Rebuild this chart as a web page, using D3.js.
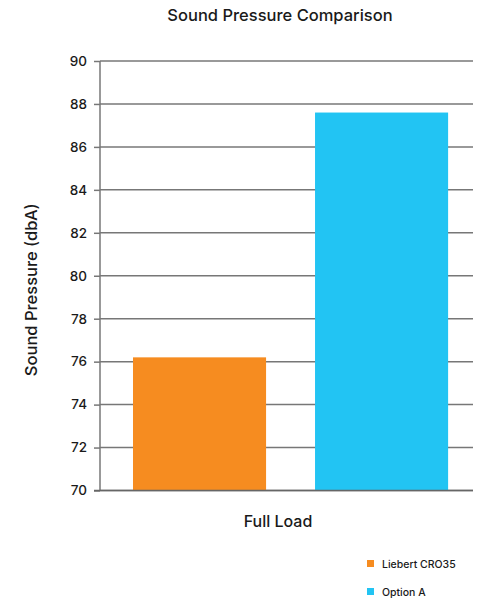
<!DOCTYPE html>
<html>
<head>
<meta charset="utf-8">
<script src="https://cdn.jsdelivr.net/npm/d3@7"></script>
<style>
  html, body { margin: 0; padding: 0; background: #fff; }
  svg text { font-family: Inter, "Noto Sans", sans-serif; fill: #1a1a1a; }
</style>
</head>
<body>
<svg id="chart" width="481" height="603"></svg>
<script>
const categories = ["Full Load"];
const seriesNames = ["Liebert CRO35", "Option A"];
const seriesValues = [76.2, 87.6];
const seriesColors = ["#F68C20", "#22C4F3"];
const yTicks = [70, 72, 74, 76, 78, 80, 82, 84, 86, 88, 90];

const svg = d3.select("#chart");
const margin = { left: 100, right: 8, top: 61, bottom: 113 };
const W = 481, H = 603;

const y = d3.scaleLinear().domain([70, 90]).range([H - margin.bottom + 0.5, margin.top]);
const x = d3.scaleBand().domain(seriesNames).range([margin.left, W - margin.right])
  .paddingInner(0.269).paddingOuter(0.159).align(0.57);

// gridlines + y axis ticks
const yAxis = d3.axisLeft(y).tickValues(yTicks).tickSize(6).tickPadding(7).tickFormat(d3.format("d"));
const gy = svg.append("g").attr("transform", `translate(${margin.left},0)`).call(yAxis);
gy.select(".domain").remove();
gy.selectAll(".tick line").attr("stroke", "#777").attr("stroke-width", 1.5);
gy.selectAll(".tick text").attr("font-size", 13.5).attr("font-weight", 500).attr("fill", "#1a1a1a")
  .style("font-family", "Inter, sans-serif");

svg.append("g").selectAll("line").data(yTicks).join("line")
  .attr("x1", margin.left).attr("x2", W - margin.right)
  .attr("y1", d => y(d)).attr("y2", d => y(d))
  .attr("stroke", "#777").attr("stroke-width", 1.5);

// bars
svg.append("g").selectAll("rect").data(seriesValues).join("rect")
  .attr("x", (d, i) => x(seriesNames[i]))
  .attr("width", x.bandwidth())
  .attr("y", d => y(d))
  .attr("height", d => y(70) - y(d))
  .attr("fill", (d, i) => seriesColors[i]);

// y axis vertical line
svg.append("line").attr("x1", margin.left).attr("x2", margin.left)
  .attr("y1", y(90)).attr("y2", y(70)).attr("stroke", "#777").attr("stroke-width", 1.5);
// bottom line
svg.append("line").attr("x1", margin.left - 6).attr("x2", W - margin.right)
  .attr("y1", y(70)).attr("y2", y(70)).attr("stroke", "#666").attr("stroke-width", 1.5);

// title
svg.append("text").attr("x", 280).attr("y", 21).attr("text-anchor", "middle")
  .attr("font-size", 16.5).attr("font-weight", 500).text("Sound Pressure Comparison");

// y label
svg.append("text").attr("transform", `translate(37,${(y(90) + y(70)) / 2 + 14}) rotate(-90)`)
  .attr("text-anchor", "middle").attr("font-size", 16.5).attr("font-weight", 500)
  .text("Sound Pressure (dbA)");

// x category label
svg.append("text").attr("x", 278).attr("y", 527).attr("text-anchor", "middle")
  .attr("font-size", 16).attr("font-weight", 500).text(categories[0]);

// legend
const lg = svg.append("g").selectAll("g").data(seriesNames).join("g")
  .attr("transform", (d, i) => `translate(367,${560 + i * 28})`);
lg.append("rect").attr("width", 7).attr("height", 7).attr("fill", (d, i) => seriesColors[i]);
lg.append("text").attr("x", 15).attr("y", 8).attr("font-size", 10.5).attr("font-weight", 500).text(d => d);
</script>
</body>
</html>
